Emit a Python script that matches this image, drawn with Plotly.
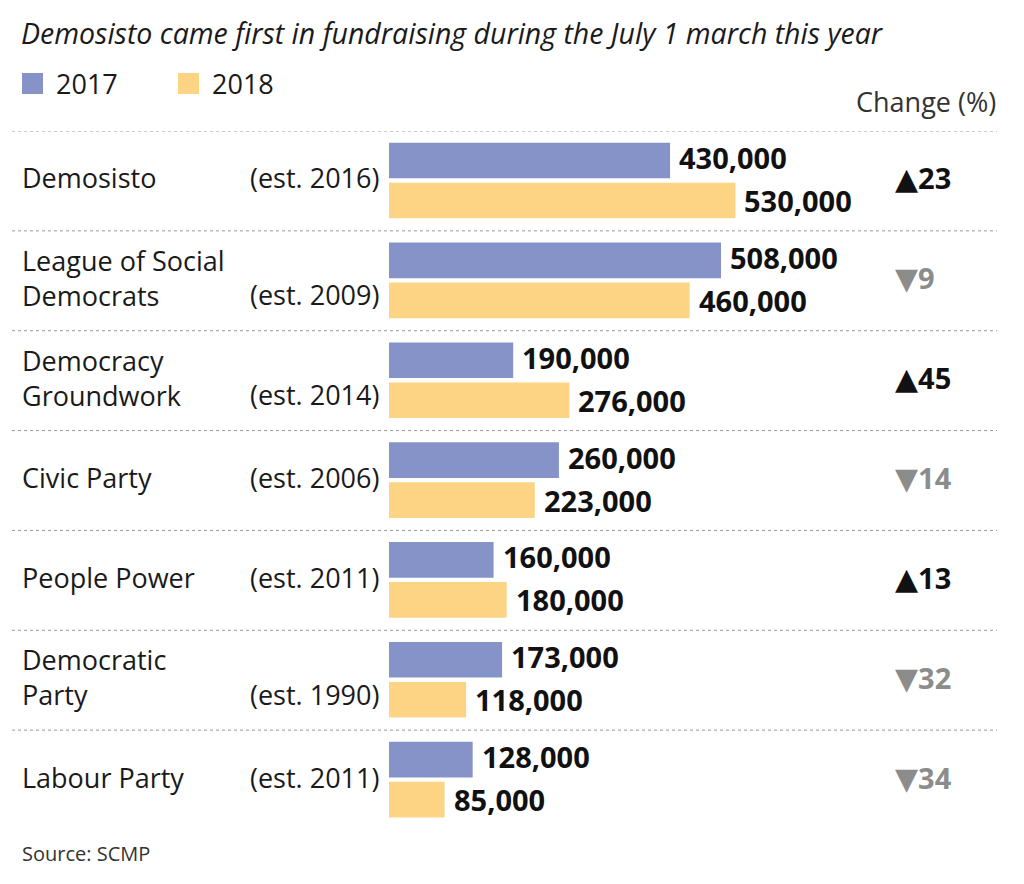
import plotly.graph_objects as go

# ---- data ----
parties = ["Demosisto", "League of Social|Democrats", "Democracy|Groundwork",
           "Civic Party", "People Power", "Democratic|Party", "Labour Party"]
established = ["(est. 2016)", "(est. 2009)", "(est. 2014)", "(est. 2006)",
               "(est. 2011)", "(est. 1990)", "(est. 2011)"]
funds_2017 = [430000, 508000, 190000, 260000, 160000, 173000, 128000]
funds_2018 = [530000, 460000, 276000, 223000, 180000, 118000, 85000]
change_pct = [23, -9, 45, -14, 13, -32, -34]

title = "Demosisto came first in fundraising during the July 1 march this year"
source = "Source: SCMP"

# ---- layout geometry ----
W_FIG, H_FIG = 1024, 884
L, R, T, B = 389, 27, 131, 54
PW = W_FIG - L - R
PH = H_FIG - T - B
UNITS_PER_PX = 1530
XMAX = PW * UNITS_PER_PX
N = len(parties)

C17 = "#8593C8"
C18 = "#FDD483"
FONT = "Open Sans"

def px(x):
    return (x - L) / PW

def py(y):
    return (H_FIG - B - y) / PH

off17, off18, bw = 0.2955, 0.696, 0.357
y17 = [i + off17 for i in range(N)]
y18 = [i + off18 for i in range(N)]

fig = go.Figure()
fig.add_trace(go.Bar(x=funds_2017, y=y17, orientation="h", width=bw,
                     marker=dict(color=C17, line=dict(width=0)),
                     hoverinfo="skip", name="2017"))
fig.add_trace(go.Bar(x=funds_2018, y=y18, orientation="h", width=bw,
                     marker=dict(color=C18, line=dict(width=0)),
                     hoverinfo="skip", name="2018"))

ann = []
shapes = []

# value labels
for vals, ys, ysh in ((funds_2017, y17, 3), (funds_2018, y18, 0)):
    for v, yy in zip(vals, ys):
        ann.append(dict(x=v, y=yy, xref="x", yref="y", text=f"<b>{v:,}</b>",
                        xanchor="left", yanchor="middle", xshift=7, yshift=ysh,
                        showarrow=False,
                        font=dict(family=FONT, size=29, color="#111111")))

# category labels
for i, (name, est) in enumerate(zip(parties, established)):
    lines = name.split("|")
    c = i + 0.5 - 0.03
    ann.append(dict(x=px(20), y=c, xref="paper", yref="y", text="<br>".join(lines),
                    xanchor="left", yanchor="middle", align="left", showarrow=False,
                    font=dict(family=FONT, size=27, color="#1a1a1a")))
    est_y = c if len(lines) == 1 else c + 0.17
    ann.append(dict(x=px(381), y=est_y, xref="paper", yref="y", text=est,
                    xanchor="right", yanchor="middle", showarrow=False,
                    font=dict(family=FONT, size=27, color="#1a1a1a")))
    # change column
    ch = change_pct[i]
    if ch >= 0:
        tri, col = "▲", "#111111"
    else:
        tri, col = "▼", "#8c8c8c"
    txt = (f"<span style='font-family:DejaVu Sans;font-size:30px'>{tri}</span>"
           f"<b>{abs(ch)}</b>")
    ann.append(dict(x=px(893), y=c, xref="paper", yref="y", text=txt,
                    xanchor="left", yanchor="middle", showarrow=False,
                    font=dict(family=FONT, size=29, color=col)))

# separators
for i in range(N):
    shapes.append(dict(type="line", xref="paper", yref="y", x0=px(12), x1=px(997),
                       y0=i, y1=i, line=dict(color="#9a9a9a", width=1, dash="dot")))

# title
ann.append(dict(x=px(19), y=py(33), xref="paper", yref="paper", text=f"<i>{title}</i>",
                xanchor="left", yanchor="middle", showarrow=False,
                font=dict(family=FONT, size=28.5, color="#1a1a1a")))
# legend
for x0, col, lab in ((22, C17, "2017"), (178, C18, "2018")):
    shapes.append(dict(type="rect", xref="paper", yref="paper",
                       x0=px(x0), x1=px(x0 + 21), y0=py(94), y1=py(73),
                       fillcolor=col, line=dict(width=0)))
    ann.append(dict(x=px(x0 + 32), y=py(84), xref="paper", yref="paper", text=lab,
                    xanchor="left", yanchor="middle", showarrow=False,
                    font=dict(family=FONT, size=27, color="#1a1a1a")))
# change header
ann.append(dict(x=px(998), y=py(102), xref="paper", yref="paper", text="Change (%)",
                xanchor="right", yanchor="middle", showarrow=False,
                font=dict(family=FONT, size=27, color="#333333")))
# source
ann.append(dict(x=px(20), y=py(853), xref="paper", yref="paper", text=source,
                xanchor="left", yanchor="middle", showarrow=False,
                font=dict(family=FONT, size=20, color="#333333")))

fig.update_layout(
    width=W_FIG, height=H_FIG,
    margin=dict(l=L, r=R, t=T, b=B),
    paper_bgcolor="white", plot_bgcolor="white",
    showlegend=False, barmode="overlay",
    xaxis=dict(range=[0, XMAX], visible=False, fixedrange=True),
    yaxis=dict(range=[N, 0], visible=False, fixedrange=True),
    annotations=ann, shapes=shapes,
)
fig.write_html("out.html", config={"displayModeBar": False},
               post_script="document.body.style.margin='0';")
